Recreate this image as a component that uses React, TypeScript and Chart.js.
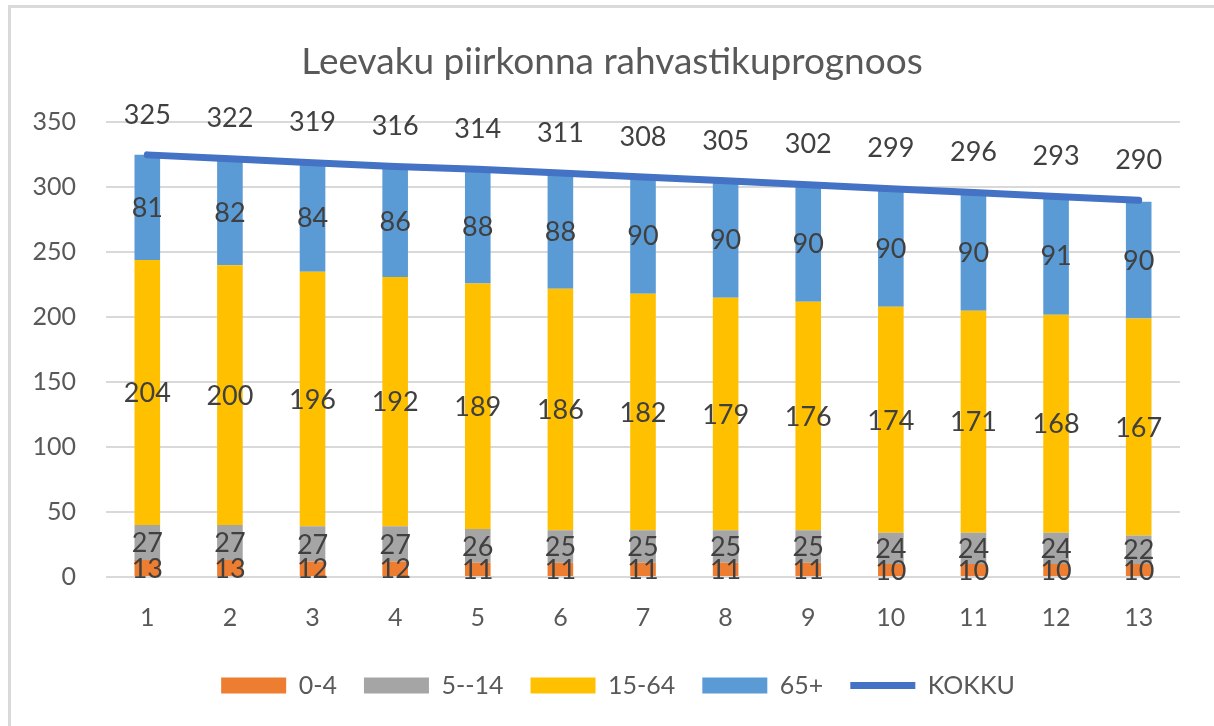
import React, { useEffect, useRef } from "react";
import { Chart, registerables } from "chart.js";

Chart.register(...registerables);

const categories = ["1", "2", "3", "4", "5", "6", "7", "8", "9", "10", "11", "12", "13"];
const age0to4 = [13, 13, 12, 12, 11, 11, 11, 11, 11, 10, 10, 10, 10];
const age5to14 = [27, 27, 27, 27, 26, 25, 25, 25, 25, 24, 24, 24, 22];
const age15to64 = [204, 200, 196, 192, 189, 186, 182, 179, 176, 174, 171, 168, 167];
const age65plus = [81, 82, 84, 86, 88, 88, 90, 90, 90, 90, 90, 91, 90];
const kokku = [325, 322, 319, 316, 314, 311, 308, 305, 302, 299, 296, 293, 290];
const seriesNames = ["0-4", "5--14", "15-64", "65+", "KOKKU"];
const titleText = "Leevaku piirkonna rahvastikuprognoos";

const FONT = "Lato, 'Open Sans', sans-serif";

const labelPlugin = {
  id: "valueLabels",
  afterDatasetsDraw(chart: any) {
    const ctx = chart.ctx;
    ctx.save();
    ctx.font = `27px ${FONT}`;
    ctx.fillStyle = "#404040";
    ctx.textAlign = "center";
    ctx.textBaseline = "middle";
    chart.data.datasets.forEach((ds: any, di: number) => {
      const meta = chart.getDatasetMeta(di);
      meta.data.forEach((el: any, i: number) => {
        const v = ds.data[i];
        if (ds.type === "line") {
          ctx.fillText(String(v), el.x, el.y - 40);
        } else {
          ctx.fillText(String(v), el.x, (el.y + el.base) / 2 + 1);
        }
      });
    });
    ctx.restore();
  },
};

const shiftPlugin = {
  id: "shiftBoxes",
  afterLayout(chart: any) {
    if (chart.legend) {
      chart.legend.left += 28;
      chart.legend.right += 28;
    }
    if (chart.titleBlock) {
      chart.titleBlock.left += 22;
      chart.titleBlock.right += 22;
    }
  },
};

export default function App() {
  const ref = useRef<HTMLCanvasElement | null>(null);
  useEffect(() => {
    document.body.style.margin = "0";
    const chart = new Chart(ref.current as HTMLCanvasElement, {
      type: "bar",
      data: {
        labels: categories,
        datasets: [
          { label: seriesNames[0], data: age0to4, backgroundColor: "#ED7D31", stack: "s", pointStyle: "rect", borderWidth: 0 },
          { label: seriesNames[1], data: age5to14, backgroundColor: "#A5A5A5", stack: "s", pointStyle: "rect", borderWidth: 0 },
          { label: seriesNames[2], data: age15to64, backgroundColor: "#FFC000", stack: "s", pointStyle: "rect", borderWidth: 0 },
          { label: seriesNames[3], data: age65plus, backgroundColor: "#5B9BD5", stack: "s", pointStyle: "rect", borderWidth: 0 },
          {
            type: "line",
            label: seriesNames[4],
            data: kokku,
            borderColor: "#4472C4",
            backgroundColor: "#4472C4",
            borderWidth: 7,
            borderCapStyle: "round",
            pointRadius: 0,
            pointStyle: "line",
            stack: "line",
            order: -1,
          } as any,
        ],
      },
      options: {
        animation: false,
        responsive: false,
        maintainAspectRatio: false,
        layout: { padding: { left: 0, right: 34, top: 14, bottom: 18 } },
        datasets: {
          bar: { categoryPercentage: 1, barPercentage: 0.31 },
        },
        plugins: {
          tooltip: { enabled: false },
          title: {
            display: true,
            text: titleText,
            color: "#595959",
            font: { family: FONT, size: 37, weight: "normal" },
            padding: { top: 26, bottom: 38 },
          },
          legend: {
            position: "bottom",
            labels: {
              usePointStyle: true,
              pointStyleWidth: 65,
              boxHeight: 16,
              color: "#595959",
              font: { family: FONT, size: 25 },
              padding: 27,
              sort: (a: any, b: any) => a.datasetIndex - b.datasetIndex,
            },
          },
        },
        scales: {
          x: {
            stacked: true,
            afterFit: (s: any) => {
              s.height = 69;
            },
            grid: { display: false, drawTicks: false },
            border: { display: false },
            ticks: { color: "#595959", font: { family: FONT, size: 25 }, padding: 26 },
          },
          y: {
            stacked: true,
            min: 0,
            max: 350,
            afterFit: (s: any) => {
              s.width = 106;
            },
            grid: { color: "#D9D9D9", lineWidth: 2, drawTicks: false },
            border: { display: false },
            ticks: { stepSize: 50, color: "#595959", font: { family: FONT, size: 25 }, padding: 30 },
          },
        },
      },
      plugins: [labelPlugin, shiftPlugin],
    } as any);
    return () => chart.destroy();
  }, []);
  return (
    <div style={{ position: "relative", width: 1214, height: 726, background: "#fff" }}>
      <div
        style={{
          position: "absolute",
          left: 8,
          top: 5,
          right: 0,
          bottom: 0,
          borderTop: "3px solid #D9D9D9",
          borderLeft: "3px solid #D9D9D9",
        }}
      />
      <canvas ref={ref} width={1214} height={726} style={{ position: "absolute", left: 0, top: 0 }} />
    </div>
  );
}
